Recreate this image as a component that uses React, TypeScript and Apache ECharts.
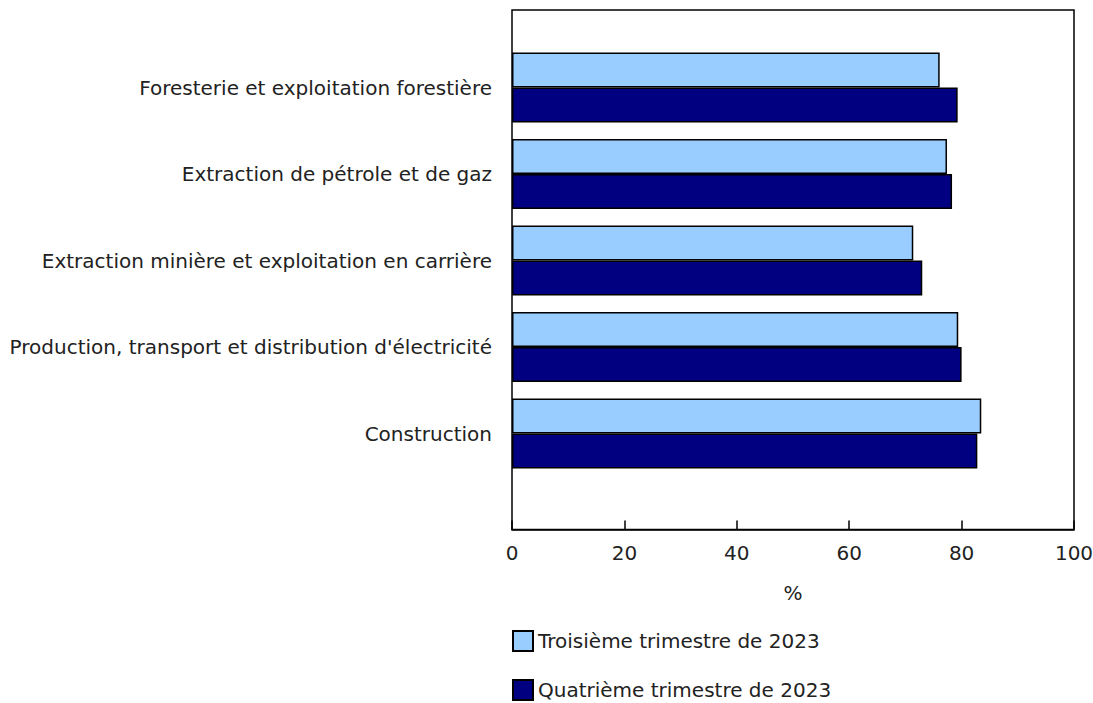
import React, { useEffect, useRef } from "react";
import * as echarts from "echarts";

const categories = [
  "Foresterie et exploitation forestière",
  "Extraction de pétrole et de gaz",
  "Extraction minière et exploitation en carrière",
  "Production, transport et distribution d'électricité",
  "Construction",
];
const seriesNames = ["Troisième trimestre de 2023", "Quatrième trimestre de 2023"];
const q3Values = [76.1, 77.4, 71.4, 79.4, 83.5];
const q4Values = [79.3, 78.3, 73.0, 80.0, 82.8];
const xTicks = [0, 20, 40, 60, 80, 100];
const axisName = "%";

const FONT = "DejaVu Sans, Verdana, sans-serif";
const TEXT = "#222";
const colors = ["#99CCFF", "#000080"];

export default function App() {
  const ref = useRef<HTMLDivElement>(null);
  useEffect(() => {
    if (!ref.current) return;
    const chart = echarts.init(ref.current, undefined, { renderer: "svg" });
    const legendBase = {
      orient: "vertical",
      left: 512,
      itemWidth: 20,
      itemHeight: 20,
      icon: "rect",
      padding: 0,
      textStyle: { fontSize: 20, color: TEXT, fontFamily: FONT },
    };
    chart.setOption({
      animation: false,
      textStyle: { fontFamily: FONT },
      grid: [
        { left: 512, top: 10, width: 562, height: 519.5, show: true, borderColor: "#000", borderWidth: 1.5, outerBoundsMode: "none" },
        { left: 512, top: 44.25, width: 562, height: 432.5, outerBoundsMode: "none" },
      ],
      xAxis: [
        {
          gridIndex: 0,
          type: "value",
          min: xTicks[0],
          max: xTicks[xTicks.length - 1],
          interval: 20,
          name: axisName,
          nameLocation: "middle",
          nameGap: 53,
          nameTextStyle: { fontSize: 20, color: TEXT, fontFamily: FONT },
          axisLine: { show: true, lineStyle: { color: "#000", width: 1.5 } },
          axisTick: { show: true, inside: true, length: 9, lineStyle: { color: "#000", width: 1.5 } },
          axisLabel: { fontSize: 20, color: TEXT, margin: 13, fontFamily: FONT },
          splitLine: { show: false },
        },
        { gridIndex: 1, type: "value", min: 0, max: 100, show: false },
      ],
      yAxis: [
        { gridIndex: 0, type: "value", min: 0, max: 1, show: false },
        {
          gridIndex: 1,
          type: "category",
          inverse: true,
          data: categories,
          axisLine: { show: false },
          axisTick: { show: false },
          axisLabel: { fontSize: 20, color: TEXT, margin: 20, fontFamily: FONT },
        },
      ],
      legend: [
        { ...legendBase, top: 630, data: [seriesNames[0]] },
        { ...legendBase, top: 679, data: [seriesNames[1]] },
      ],
      series: [
        {
          name: seriesNames[0],
          type: "bar",
          xAxisIndex: 1,
          yAxisIndex: 1,
          data: q3Values,
          barWidth: 35,
          barGap: "0%",
          itemStyle: { color: colors[0], borderColor: "#000", borderWidth: 1.5 },
        },
        {
          name: seriesNames[1],
          type: "bar",
          xAxisIndex: 1,
          yAxisIndex: 1,
          data: q4Values,
          barWidth: 35,
          barGap: "0%",
          itemStyle: { color: colors[1], borderColor: "#000", borderWidth: 1.5 },
        },
      ],
    });
    return () => chart.dispose();
  }, []);
  return (
    <div
      ref={ref}
      style={{ position: "fixed", left: 0, top: 0, width: 1093, height: 703, background: "#fff" }}
    />
  );
}
